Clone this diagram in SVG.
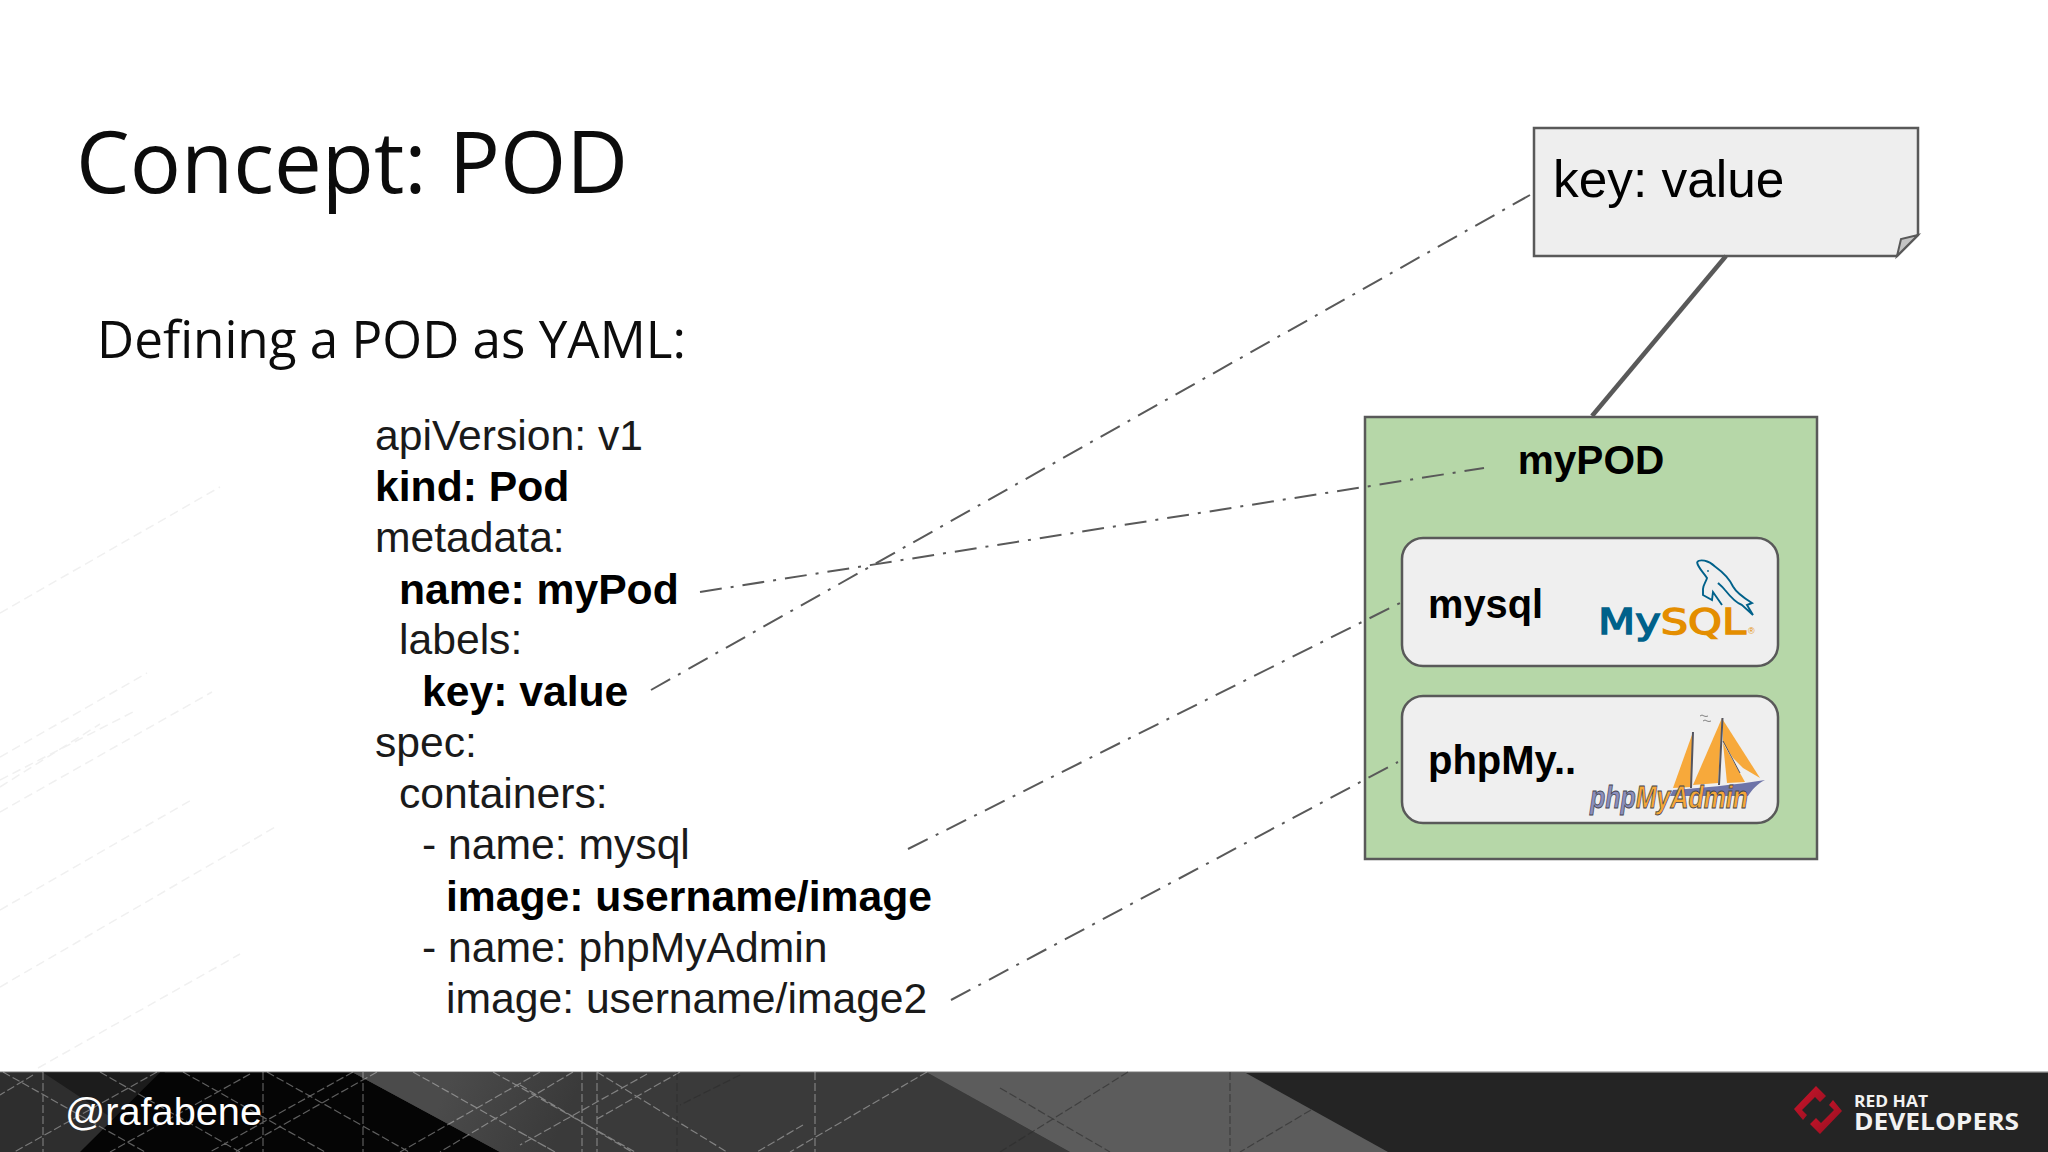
<svg xmlns="http://www.w3.org/2000/svg" width="2048" height="1152" viewBox="0 0 2048 1152">
<style>
.hd{font-family:"Open Sans",sans-serif;fill:#0c0c0c}
.c{font-family:"Liberation Sans",Arial,sans-serif;font-size:42.67px;fill:#1a1a1a}
.b{font-weight:700;fill:#000}
.l{font-family:"Liberation Sans",Arial,sans-serif;fill:#000}
.dd{fill:none;stroke:#595959;stroke-width:2;stroke-dasharray:22 9 3 9}
.box{fill:#efefef;stroke:#595959;stroke-width:2.5}
.faint{fill:none;stroke:#f0f0f0;stroke-width:1.5;stroke-dasharray:9 5}
.lat{fill:none;stroke:#fff;stroke-opacity:.36;stroke-width:1.2;stroke-dasharray:8 3}
.lat2{fill:none;stroke:#2c2c2c;stroke-opacity:.6;stroke-width:1.2;stroke-dasharray:8 3}
.sail{fill:#f7a93b}
.my{font-family:"DejaVu Sans",sans-serif;font-size:35px;stroke-width:1.4}
.pma{font-family:"Liberation Sans",sans-serif;font-weight:700;font-style:italic;font-size:31px;stroke:#44444e;stroke-width:.8}
.rh{font-family:"Open Sans",sans-serif;font-weight:700;fill:#f2f2f2}
</style>
<defs>
<linearGradient id="r" x1="0" y1="0" x2="1" y2="1"><stop offset="0" stop-color="#d2142b"/><stop offset="1" stop-color="#8f1020"/></linearGradient>
<linearGradient id="band" gradientUnits="userSpaceOnUse" x1="450" y1="1080" x2="560" y2="1130"><stop offset="0" stop-color="#4b4b4b"/><stop offset="1" stop-color="#3a3a3a"/></linearGradient>
</defs>
<rect width="2048" height="1152" fill="#fff"/>
<g id="bgLines">
<path class="faint" d="M0 613L220 487M0 757L147 673M0 780L135 711M0 787L100 724M0 812L212 692M0 910L193 799M0 987L277 826M38 1068L240 954"/>
</g>
<g id="footer">
<rect y="1071" width="2048" height="81" fill="#242424"/>
<rect y="1071" width="2048" height="1.5" fill="#bdbdbd"/>
<polygon points="0,1072.5 120,1072.5 120,1152 0,1152" fill="#2e2e2e"/>
<polygon points="43,1072.5 165,1072.5 80,1152 115,1120" fill="#1c1c1c"/>
<polygon points="160,1072.5 353,1072.5 500,1152 80,1152" fill="#050505"/>
<polygon points="353,1072.5 927,1072.5 1070,1152 500,1152" fill="#3a3a3a"/>
<polygon points="353,1072.5 600,1072.5 600,1152 500,1152" fill="url(#band)"/>
<polygon points="927,1072.5 1245,1072.5 1388,1152 1070,1152" fill="#5c5c5c"/>
<path class="lat" d="M157 1072L0 1160M250 1074L110 1152M353 1072L210 1152M377 1072L235 1152M540 1072L400 1152M573 1072L440 1152M33 1075L0 1095M647 1074L520 1145M680 1072L597 1119M927 1072L790 1152M803 1125L757 1152M3 1072L145 1152M100 1072L240 1152M183 1072L325 1152M267 1072L409 1152M413 1072L555 1152M493 1072L635 1152M520 1085L632 1152M597 1072L727 1152M520 1132L555 1152M43 1072V1152M263 1072V1152M363 1072V1152M582 1072V1152M597 1072V1152M815 1072V1152"/>
<path class="lat2" d="M740 1075L680 1105M677 1072V1152M1128 1072L1000 1152M1000 1088L1110 1152M1311 1110L1240 1152M1230 1072V1152"/>
</g>
<g id="title"><text class="hd" x="76" y="193" font-size="85.2">Concept: POD</text></g>
<g id="subtitle"><text class="hd" x="97" y="358" font-size="51.2">Defining a POD as YAML:</text></g>
<g id="yaml">
<text class="c" x="375" y="450">apiVersion: v1</text>
<text class="c b" x="375" y="501">kind: Pod</text>
<text class="c" x="375" y="552">metadata:</text>
<text class="c b" x="399" y="604">name: myPod</text>
<text class="c" x="399" y="654">labels:</text>
<text class="c b" x="422" y="706">key: value</text>
<text class="c" x="375" y="757">spec:</text>
<text class="c" x="399" y="808">containers:</text>
<text class="c" x="422" y="859">- name: mysql</text>
<text class="c b" x="446" y="911">image: username/image</text>
<text class="c" x="422" y="962">- name: phpMyAdmin</text>
<text class="c" x="446" y="1013">image: username/image2</text>
</g>
<g id="note">
<polygon points="1534,128 1918,128 1918,235 1897,256 1534,256" fill="#eee" stroke="#595959" stroke-width="2.5"/>
<polygon points="1918,235 1901,239 1897,256" fill="#c4c4c4" stroke="#595959" stroke-width="2"/>
<text class="l" x="1553" y="197" font-size="51.4">key: value</text>
</g>
<g id="pod">
<rect x="1365" y="417" width="452" height="442" fill="#b6d7a8" stroke="#595959" stroke-width="2.5"/>
<text class="l b" x="1591" y="474" font-size="40.6" text-anchor="middle">myPOD</text>
</g>
<g id="connectors">
<line x1="1726" y1="256" x2="1592" y2="416" stroke="#595959" stroke-width="4.5"/>
<path class="dd" d="M651 690L1530 195"/>
<path class="dd" d="M700 592L1484 468"/>
<path class="dd" d="M908 849L1402 602"/>
<path class="dd" d="M951 1000L1398 762"/>
</g>
<g id="mysql">
<rect class="box" x="1402" y="538" width="376" height="128" rx="21"/>
<text class="l b" x="1428" y="618" font-size="39.8">mysql</text>
<path d="M1697 562C1700 559 1708 560 1715 566.5C1724 573 1730 580 1733 586.5C1736 592 1744 598 1752 603L1747 605L1753 615L1742 605C1736 603 1729 595 1725 590C1722 586 1719 584 1718 583" fill="none" stroke="#00618a" stroke-width="1.9"/>
<path d="M1697 562C1698 568 1704 573 1707 578C1706 582 1703 585 1703 589L1703 595L1712 600L1713 592L1722 605" fill="none" stroke="#00618a" stroke-width="1.9"/>
<circle cx="1708" cy="571" r=".9" fill="#00618a"/>
<text class="my" x="1598" y="634" textLength="148" lengthAdjust="spacingAndGlyphs"><tspan fill="#00618a" stroke="#00618a">My</tspan><tspan fill="#e48e00" stroke="#e48e00">SQL</tspan></text>
<text x="1748" y="634" font-family="'Liberation Sans',sans-serif" font-size="9" fill="#e48e00">®</text>
</g>
<g id="phpmyadmin">
<rect class="box" x="1402" y="696" width="376" height="127" rx="21"/>
<text class="l b" x="1428" y="774" font-size="40">phpMy..</text>
<polygon class="sail" points="1693,732 1673,788 1691,787"/>
<polygon class="sail" points="1722,718 1693,785 1718,783"/>
<polygon class="sail" points="1723,720 1760,778 1743,768 1733,758 1723,742"/>
<polygon class="sail" points="1723,743 1745,782 1727,783"/>
<path d="M1693 732L1691 788M1722.5 718L1719 785" stroke="#55555f" stroke-width="2" fill="none"/>
<path d="M1723 741L1740 773" stroke="#55555f" stroke-width="1" fill="none"/>
<path d="M1700 716q2-2 4 0q2 1 4 0M1703 721q2-2 4 0q2 1 4 0" stroke="#666" stroke-width=".8" fill="none"/>
<path d="M1765 780C1735 785 1700 788 1673 790L1670 796L1748 796C1752 790 1757 784 1765 780Z" fill="#6e74a8"/>
<text class="pma" x="1590" y="808" textLength="158" lengthAdjust="spacingAndGlyphs"><tspan fill="#8a8fbe">php</tspan><tspan fill="#f6a838">MyAdmin</tspan></text>
</g>
<g id="handle"><text class="l" x="65" y="1125" font-size="39.7" style="fill:#fff">@rafabene</text></g>
<g id="logo">
<polygon points="1794,1109 1816,1086 1826,1096 1820,1102 1815,1097 1802,1110 1807,1115 1803,1120" fill="url(#r)"/>
<polygon points="1842,1111 1820,1134 1810,1124 1816,1118 1821,1123 1834,1110 1829,1105 1833,1100" fill="url(#r)"/>
<text class="rh" x="1854" y="1107" font-size="16" textLength="74" lengthAdjust="spacingAndGlyphs">RED HAT</text>
<text class="rh" x="1854" y="1130" font-size="23" textLength="165" lengthAdjust="spacingAndGlyphs">DEVELOPERS</text>
</g>
</svg>
